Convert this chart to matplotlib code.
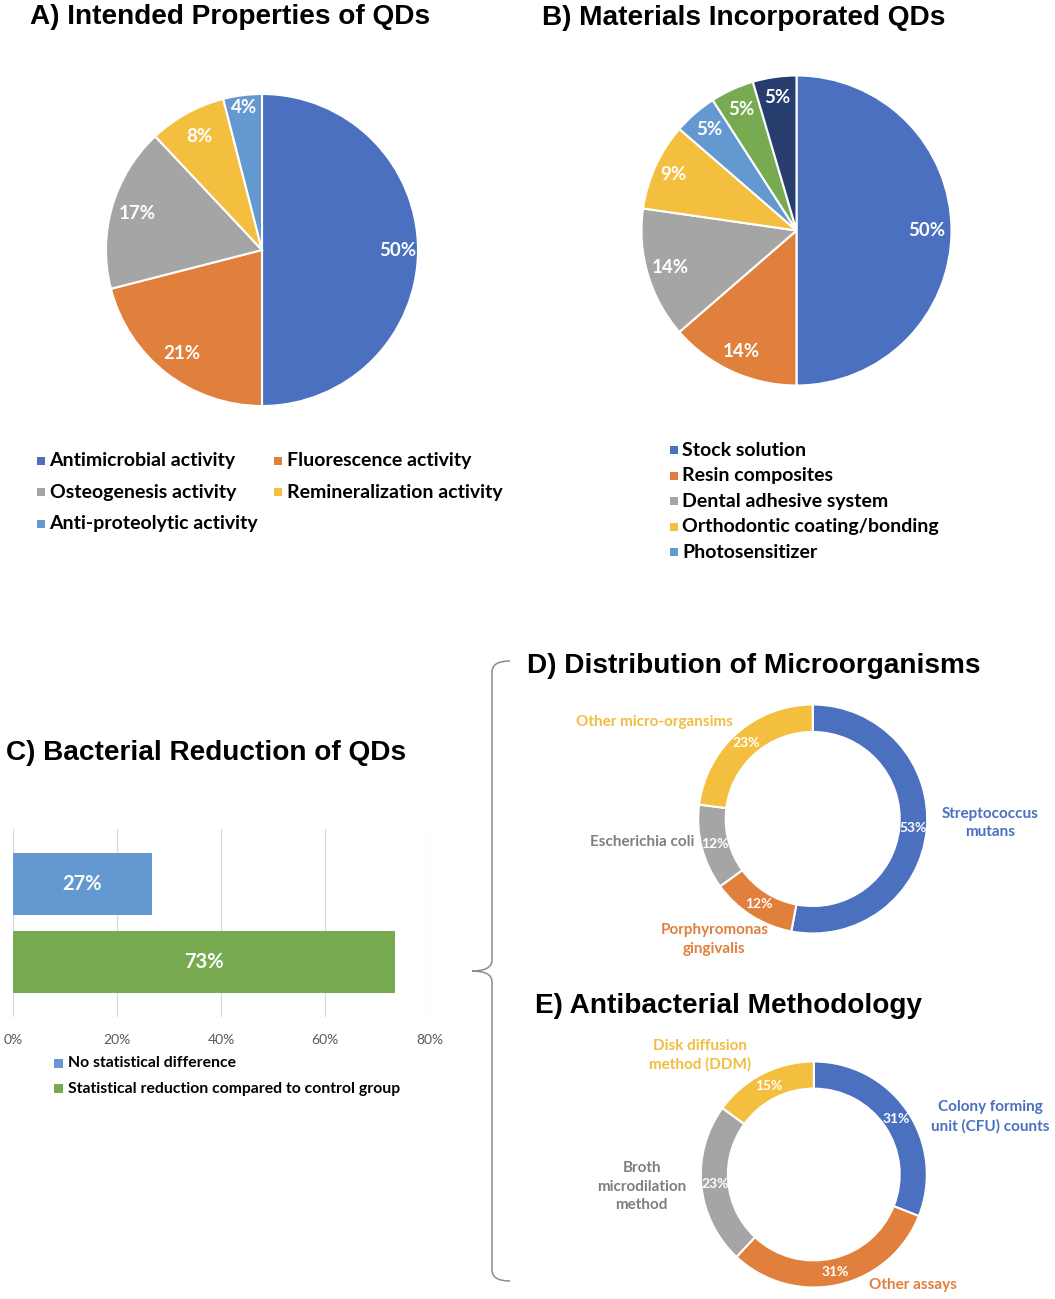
import matplotlib
matplotlib.use('Agg')
import matplotlib.pyplot as plt
import numpy as np
from matplotlib.patches import Rectangle, PathPatch
from matplotlib.path import Path

# ---------------- data ----------------
a_labels = ['Antimicrobial activity', 'Fluorescence activity', 'Osteogenesis activity',
            'Remineralization activity', 'Anti-proteolytic activity']
a_values = [50, 21, 17, 8, 4]

b_labels = ['Stock solution', 'Resin composites', 'Dental adhesive system',
            'Orthodontic coating/bonding', 'Photosensitizer']
b_counts = [11, 3, 3, 2, 1, 1, 1]

c_categories = ['No statistical difference', 'Statistical reduction compared to control group']
c_values = [26.7, 73.3]
c_ticks = [0, 20, 40, 60, 80]

d_labels = ['Streptococcus\nmutans', 'Porphyromonas\ngingivalis', 'Escherichia coli',
            'Other micro-organsims']
d_values = [53, 12, 12, 23]

e_labels = ['Colony forming\nunit (CFU) counts', 'Other assays',
            'Broth\nmicrodilation\nmethod', 'Disk diffusion\nmethod (DDM)']
e_values = [31, 31, 23, 15]

# ---------------- styles ----------------
BLUE = '#4A70BF'
ORANGE = '#E17F3D'
GRAY = '#A5A5A5'
YELLOW = '#F4BF3F'
LBLUE = '#6498D0'
GREEN = '#77AA51'
NAVY = '#263D6E'
pie_colors = [BLUE, ORANGE, GRAY, YELLOW, LBLUE, GREEN, NAVY]

LAB = 'Lato'
TITLE = 'Liberation Sans'

W, H = 1055, 1299
fig = plt.figure(figsize=(W / 100, H / 100), dpi=100)
fig.patch.set_facecolor('white')

ov = fig.add_axes([0, 0, 1, 1], zorder=-5)
ov.set_xlim(0, W)
ov.set_ylim(H, 0)
ov.axis('off')


def px_axes(cx, cy, r):
    return fig.add_axes([(cx - r) / W, 1 - (cy + r) / H, 2 * r / W, 2 * r / H])


def place_pct(wedges, texts, dists):
    for w, t, d in zip(wedges, texts, dists):
        ang = np.deg2rad((w.theta1 + w.theta2) / 2)
        t.set_position((d * np.cos(ang), d * np.sin(ang)))


def legend_item(x, y, color, label, size=14, sq=8, gap=5):
    ov.add_patch(Rectangle((x - sq / 2, y - sq / 2), sq, sq, color=color, lw=0))
    ov.text(x + sq / 2 + gap, y, label, ha='left', va='center', fontsize=size,
            fontweight='bold', family=LAB, color='black')


# ---------------- titles ----------------
tkw = dict(ha='left', va='baseline', fontsize=20.2, fontweight='bold', family=TITLE, color='black')
ov.text(30, 24, 'A) Intended Properties of QDs', **tkw)
ov.text(541.5, 25, 'B) Materials Incorporated QDs', **tkw)
ov.text(6.5, 760, 'C) Bacterial Reduction of QDs', **tkw)
ov.text(527, 673, 'D) Distribution of Microorganisms', **tkw)
ov.text(535, 1013, 'E) Antibacterial Methodology', **tkw)

# ---------------- A) pie ----------------
axA = px_axes(262, 250, 156)
wA, _, tA = axA.pie(a_values, colors=pie_colors[:5], startangle=90, counterclock=False,
                    autopct='%.0f%%', wedgeprops=dict(edgecolor='white', linewidth=1.5),
                    textprops=dict(color='white', fontsize=13.5, fontweight='bold', family=LAB))
place_pct(wA, tA, [0.87, 0.84, 0.83, 0.83, 0.92])
axA.set_xlim(-1, 1)
axA.set_ylim(-1, 1)

for i, k in enumerate([0, 2, 4]):
    legend_item(40.5, 460.5 + i * 31.5, pie_colors[k], a_labels[k])
for i, k in enumerate([1, 3]):
    legend_item(278, 460.5 + i * 31.5, pie_colors[k], a_labels[k])

# ---------------- B) pie ----------------
axB = px_axes(796.5, 230.5, 155)
wB, _, tB = axB.pie(b_counts, colors=pie_colors, startangle=90, counterclock=False,
                    autopct='%.0f%%', wedgeprops=dict(edgecolor='white', linewidth=1.5),
                    textprops=dict(color='white', fontsize=13.5, fontweight='bold', family=LAB))
place_pct(wB, tB, [0.84, 0.86, 0.85, 0.87, 0.86, 0.86, 0.87])
axB.set_xlim(-1, 1)
axB.set_ylim(-1, 1)
for i, lab in enumerate(b_labels):
    legend_item(673.5, 450 + i * 25.6, pie_colors[i], lab)

# ---------------- C) bars ----------------
axC = fig.add_axes([12.7 / W, 1 - 1017 / H, (429.5 - 12.7) / W, (1017 - 829) / H])
bars = axC.barh([0, 1], c_values, height=0.8, color=[LBLUE, GREEN])
axC.set_ylim(1.7, -0.7)
axC.set_xlim(0, 80)
axC.set_xticks(c_ticks)
axC.set_xticklabels([f'{t}%' for t in c_ticks])
axC.set_yticks([])
axC.xaxis.grid(True, color='#D9D9D9', lw=0.9)
axC.set_axisbelow(True)
for s in axC.spines.values():
    s.set_visible(False)
axC.tick_params(axis='x', length=0, pad=12, labelcolor='#595959', labelsize=10)
for lbl in axC.get_xticklabels():
    lbl.set_family(LAB)
axC.bar_label(bars, labels=[f'{v:.0f}%' for v in c_values], label_type='center',
              color='white', fontsize=14.5, fontweight='bold', family=LAB)
legend_item(58.8, 1063.3, LBLUE, c_categories[0], size=11.3, sq=9, gap=5)
legend_item(58.8, 1088.5, GREEN, c_categories[1], size=11.3, sq=9, gap=5)

# ---------------- D) donut ----------------
d_colors = [BLUE, ORANGE, GRAY, YELLOW]
d_text_colors = [BLUE, ORANGE, '#7F7F7F', '#F2BD3E']
d_label_pos = [(1.549, -0.035), (-0.859, -1.054), (-1.488, -0.198), (-1.382, 0.845)]
axD = px_axes(812.7, 819, 114.5)
wD, _, tD = axD.pie(d_values, colors=d_colors, startangle=90, counterclock=False,
                    autopct='%.0f%%', pctdistance=0.88,
                    wedgeprops=dict(width=0.24, edgecolor='white', linewidth=1.5),
                    textprops=dict(color='white', fontsize=10, fontweight='bold', family=LAB))
axD.set_xlim(-1, 1)
axD.set_ylim(-1, 1)
for lab, c, (x, y) in zip(d_labels, d_text_colors, d_label_pos):
    axD.text(x, y, lab, ha='center', va='center', color=c, fontsize=11,
             fontweight='bold', family=LAB, linespacing=1.4)

# ---------------- E) donut ----------------
e_text_colors = [BLUE, ORANGE, '#7F7F7F', '#F2BD3E']
e_label_pos = [(1.559, 0.509), (0.881, -0.978), (-1.523, -0.108), (-1.007, 1.055)]
axE = px_axes(813.8, 1174.5, 113)
wE, _, tE = axE.pie(e_values, colors=d_colors, startangle=90, counterclock=False,
                    autopct='%.0f%%', pctdistance=0.88,
                    wedgeprops=dict(width=0.24, edgecolor='white', linewidth=1.5),
                    textprops=dict(color='white', fontsize=10, fontweight='bold', family=LAB))
axE.set_xlim(-1, 1)
axE.set_ylim(-1, 1)
for lab, c, (x, y) in zip(e_labels, e_text_colors, e_label_pos):
    axE.text(x, y, lab, ha='center', va='center', color=c, fontsize=11,
             fontweight='bold', family=LAB, linespacing=1.4)

# ---------------- brace ----------------
verts = [(510, 661), (492, 661), (492, 672),
         (492, 960),
         (492, 971), (472, 971),
         (492, 971), (492, 982),
         (492, 1270),
         (492, 1281), (510, 1281)]
codes = [Path.MOVETO, Path.CURVE3, Path.CURVE3,
         Path.LINETO,
         Path.CURVE3, Path.CURVE3,
         Path.CURVE3, Path.CURVE3,
         Path.LINETO,
         Path.CURVE3, Path.CURVE3]
ov.add_patch(PathPatch(Path(verts, codes), fill=False, edgecolor='#8C8C8C', lw=1.1))

fig.savefig('out.png', dpi=100, facecolor='white')
